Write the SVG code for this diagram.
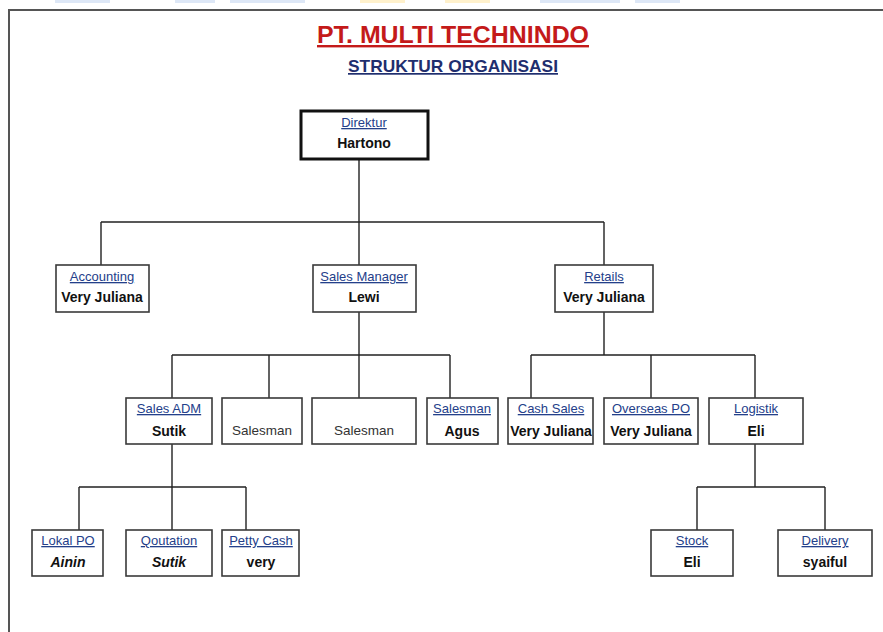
<svg xmlns="http://www.w3.org/2000/svg" width="883" height="632" viewBox="0 0 883 632">
<style>
.box{fill:#fff;stroke:#3a3a3a;stroke-width:1.6}
.top{fill:#fff;stroke:#111;stroke-width:3}
.t{font-family:"Liberation Sans","DejaVu Sans",sans-serif;font-size:13px;fill:#24408a;text-anchor:middle;text-decoration:underline}
.n{font-family:"Liberation Sans","DejaVu Sans",sans-serif;font-size:14px;font-weight:bold;fill:#111;text-anchor:middle}
.p{font-family:"Liberation Sans","DejaVu Sans",sans-serif;font-size:13.5px;fill:#333;text-anchor:middle}
.i{font-style:italic}
.c{fill:none;stroke:#222;stroke-width:1.4}
</style>
<rect width="883" height="632" fill="#fff"/>
<g id="watermark" opacity="0.35">
<rect x="55" y="0" width="55" height="3" fill="#9fbde6"/>
<rect x="175" y="0" width="40" height="3" fill="#9fbde6"/>
<rect x="230" y="0" width="75" height="3" fill="#9fbde6"/>
<rect x="360" y="0" width="45" height="3" fill="#ffd870"/>
<rect x="445" y="0" width="45" height="3" fill="#ffd870"/>
<rect x="540" y="0" width="80" height="3" fill="#9fbde6"/>
<rect x="635" y="0" width="45" height="3" fill="#9fbde6"/>
</g>
<g id="frame">
<polyline points="9,632 9,10 883,10" fill="none" stroke="#555" stroke-width="2"/>
</g>
<g id="title">
<text x="453" y="43" font-family="Liberation Sans, DejaVu Sans, sans-serif" font-size="24" font-weight="bold" fill="#c41a1a" text-anchor="middle" text-decoration="underline" textLength="272" lengthAdjust="spacingAndGlyphs">PT. MULTI TECHNINDO</text>
<text x="453" y="72" font-family="Liberation Sans, DejaVu Sans, sans-serif" font-size="17" font-weight="bold" fill="#1f2e6e" text-anchor="middle" text-decoration="underline" textLength="210" lengthAdjust="spacingAndGlyphs">STRUKTUR ORGANISASI</text>
</g>
<g id="connectors">
<path class="c" d="M359,159V222M101,222H604M101,222V265M359,222V265M604,222V265"/>
<path class="c" d="M359,312V355M172,355H450M172,355V398M269,355V398M359,355V398M450,355V398"/>
<path class="c" d="M604,312V355M531,355H755M531,355V398M651,355V398M755,355V398"/>
<path class="c" d="M172,444V487M79,487H246M79,487V530M172,487V530M246,487V530"/>
<path class="c" d="M755,444V487M697,487H825M697,487V530M825,487V530"/>
</g>
<g id="direktur"><rect class="top" x="301" y="111" width="127" height="48"/><text class="t" x="364" y="127">Direktur</text><text class="n" x="364" y="148">Hartono</text></g>
<g id="accounting"><rect class="box" x="56" y="265" width="93" height="47"/><text class="t" x="102" y="281">Accounting</text><text class="n" x="102" y="302">Very Juliana</text></g>
<g id="sales-manager"><rect class="box" x="313" y="265" width="103" height="47"/><text class="t" x="364" y="281">Sales Manager</text><text class="n" x="364" y="302">Lewi</text></g>
<g id="retails"><rect class="box" x="555" y="265" width="98" height="47"/><text class="t" x="604" y="281">Retails</text><text class="n" x="604" y="302">Very Juliana</text></g>
<g id="sales-adm"><rect class="box" x="126" y="398" width="86" height="46"/><text class="t" x="169" y="413">Sales ADM</text><text class="n" x="169" y="436">Sutik</text></g>
<g id="salesman-1"><rect class="box" x="222" y="398" width="80" height="46"/><text class="p" x="262" y="435">Salesman</text></g>
<g id="salesman-2"><rect class="box" x="312" y="398" width="104" height="46"/><text class="p" x="364" y="435">Salesman</text></g>
<g id="salesman-agus"><rect class="box" x="427" y="398" width="71" height="46"/><text class="t" x="462" y="413">Salesman</text><text class="n" x="462" y="436">Agus</text></g>
<g id="cash-sales"><rect class="box" x="508" y="398" width="85" height="46"/><text class="t" x="551" y="413">Cash Sales</text><text class="n" x="551" y="436">Very Juliana</text></g>
<g id="overseas-po"><rect class="box" x="604" y="398" width="94" height="46"/><text class="t" x="651" y="413">Overseas PO</text><text class="n" x="651" y="436">Very Juliana</text></g>
<g id="logistik"><rect class="box" x="709" y="398" width="94" height="46"/><text class="t" x="756" y="413">Logistik</text><text class="n" x="756" y="436">Eli</text></g>
<g id="lokal-po"><rect class="box" x="32" y="530" width="71" height="46"/><text class="t" x="68" y="545">Lokal PO</text><text class="n i" x="68" y="567">Ainin</text></g>
<g id="qoutation"><rect class="box" x="126" y="530" width="86" height="46"/><text class="t" x="169" y="545">Qoutation</text><text class="n i" x="169" y="567">Sutik</text></g>
<g id="petty-cash"><rect class="box" x="222" y="530" width="77" height="46"/><text class="t" x="261" y="545">Petty Cash</text><text class="n" x="261" y="567">very</text></g>
<g id="stock"><rect class="box" x="651" y="530" width="82" height="46"/><text class="t" x="692" y="545">Stock</text><text class="n" x="692" y="567">Eli</text></g>
<g id="delivery"><rect class="box" x="778" y="530" width="94" height="46"/><text class="t" x="825" y="545">Delivery</text><text class="n" x="825" y="567">syaiful</text></g>
</svg>
